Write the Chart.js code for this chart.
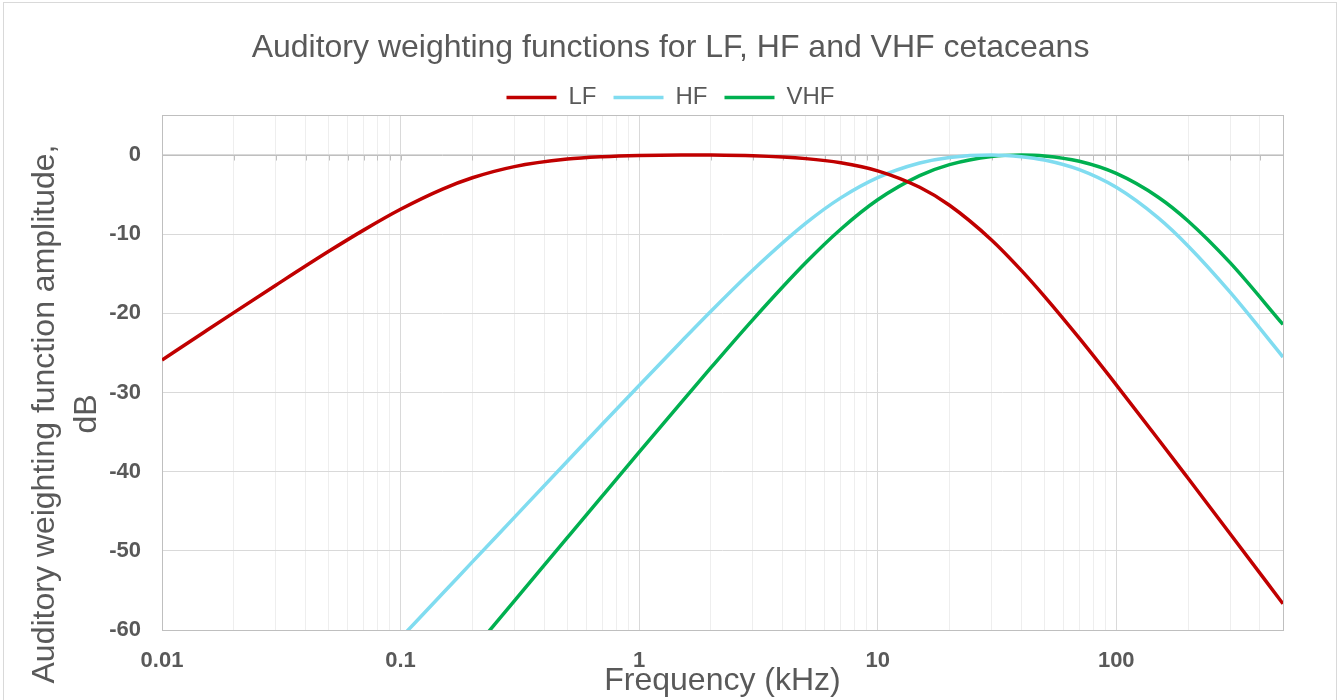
<!DOCTYPE html>
<html>
<head>
<meta charset="utf-8">
<title>Auditory weighting functions</title>
<script src="https://cdn.jsdelivr.net/npm/chart.js@4"></script>
<style>
  html, body { margin: 0; padding: 0; background: #fff; }
  #wrap { width: 1341px; height: 700px; overflow: hidden; }
</style>
</head>
<body>
<div id="wrap"><canvas id="chart" width="1341" height="700"></canvas></div>
<script>
const freqs = [0.01, 0.015, 0.02, 0.03, 0.05, 0.07, 0.1, 0.15, 0.2, 0.3, 0.5, 0.7,
  1, 1.5, 2, 3, 5, 7, 10, 15, 20, 30, 40, 50, 70, 100, 150, 200, 300, 500];

// amplitude in dB (null = far below the plot)
const lfValues = [-25.9, -22.39, -19.91, -16.45, -12.17, -9.49, -6.86, -4.31, -2.88, -1.47, -0.52, -0.22,
  -0.06, 0.0, -0.01, -0.10, -0.46, -0.98, -2.0, -4.08, -6.35, -10.73, -14.57, -17.85, -23.14, -29.03, -35.9, -40.84, -47.84, -56.69];
const hfValues = [null, null, null, null, null, null, -61.02, -55.39, -51.4, -45.77, -38.68, -34.02,
  -29.11, -23.59, -19.74, -14.53, -8.62, -5.42, -2.86, -1.02, -0.31, 0.0, -0.21, -0.64, -1.86, -4.09, -7.95, -11.49, -17.33, -25.52];
const vhfValues = [null, null, null, null, null, null, null, null, -62.65, -56.32, -48.34, -43.09,
  -37.54, -31.27, -26.87, -20.79, -13.59, -9.38, -5.66, -2.61, -1.22, -0.19, 0.0, -0.12, -0.8, -2.33, -5.33, -8.33, -13.6, -21.41];

const seriesNames = ["LF", "HF", "VHF"];
const seriesColors = ["#c00000", "#80dcf0", "#00b050"];

const xDecades = [0.01, 0.1, 1, 10, 100];
const xMin = 0.01, xMax = 500;
const yTickValues = [-60, -50, -40, -30, -20, -10, 0];
const yMin = -60, yMax = 5;

const textColor = "#595959";
const fontFamily = "'Liberation Sans', Arial, sans-serif";

// grid positions 1..9 per decade
const xGrid = [];
xDecades.forEach(d => {
  for (let m = 1; m <= 9; m++) {
    const v = +(m * d).toPrecision(6);
    if (v <= xMax) xGrid.push(v);
  }
});
const isMajor = v => xDecades.includes(v);

function toPoints(values) {
  return freqs.map((f, i) => ({ x: f, y: values[i] }));
}

const datasets = [lfValues, hfValues, vhfValues].map((vals, i) => ({
  label: seriesNames[i],
  data: toPoints(vals),
  borderColor: seriesColors[i],
  backgroundColor: seriesColors[i],
  borderWidth: 3.5,
  pointRadius: 0,
  pointHoverRadius: 0,
  cubicInterpolationMode: "monotone",
  spanGaps: false,
  clip: 0
}));

// plot frame, zero axis line with its small ticks, y title, outer frame
const decorations = {
  id: "decorations",
  beforeDatasetsDraw(chart) {
    const { ctx, chartArea: a, scales } = chart;
    const y0 = Math.round(scales.y.getPixelForValue(0)) + 0.5;
    ctx.save();
    ctx.strokeStyle = "#bfbfbf";
    ctx.lineWidth = 1;
    ctx.beginPath();
    ctx.moveTo(a.left, y0);
    ctx.lineTo(a.right, y0);
    xGrid.forEach(v => {
      const px = Math.round(scales.x.getPixelForValue(v)) + 0.5;
      ctx.moveTo(px, y0);
      ctx.lineTo(px, y0 + 5);
    });
    ctx.stroke();
    ctx.strokeRect(Math.round(a.left) + 0.5, Math.round(a.top) + 0.5,
      Math.round(a.right - a.left), Math.round(a.bottom - a.top));
    ctx.restore();
  },
  afterDraw(chart) {
    const { ctx } = chart;
    ctx.save();
    ctx.strokeStyle = "#d9d9d9";
    ctx.lineWidth = 1;
    ctx.strokeRect(3.5, 2.5, 1333, 760);
    ctx.fillStyle = textColor;
    ctx.font = "32px " + fontFamily;
    ctx.textAlign = "center";
    ctx.textBaseline = "middle";
    ctx.translate(45, 414);
    ctx.rotate(-Math.PI / 2);
    ctx.fillText("Auditory weighting function amplitude,", 0, 0);
    ctx.fillText("dB", 0, 42);
    ctx.restore();
  }
};

new Chart(document.getElementById("chart"), {
  type: "line",
  data: { datasets },
  plugins: [decorations],
  options: {
    responsive: false,
    animation: false,
    devicePixelRatio: 1,
    layout: { padding: 0 },
    plugins: {
      title: {
        display: true,
        text: "Auditory weighting functions for LF, HF and VHF cetaceans",
        color: textColor,
        font: { family: fontFamily, size: 32, weight: "normal" },
        padding: { top: 29, bottom: 1 }
      },
      legend: {
        display: true,
        position: "top",
        maxHeight: 47,
        labels: {
          color: textColor,
          font: { family: fontFamily, size: 24 },
          usePointStyle: true,
          pointStyle: "line",
          pointStyleWidth: 50,
          padding: 17
        }
      },
      tooltip: { enabled: false }
    },
    scales: {
      x: {
        type: "logarithmic",
        min: xMin,
        max: xMax,
        afterBuildTicks: s => { s.ticks = xGrid.map(v => ({ value: v, major: isMajor(v) })); },
        afterFit: s => { s.height = 70; },
        grid: {
          drawTicks: false,
          color: c => (c.tick && isMajor(c.tick.value)) ? "#d9d9d9" : "#eeeeee",
          lineWidth: 1
        },
        border: { display: false },
        ticks: {
          autoSkip: false,
          maxRotation: 0,
          minRotation: 0,
          padding: 18,
          color: textColor,
          font: { family: fontFamily, size: 22, weight: "bold" },
          callback: v => isMajor(v) ? String(v) : ""
        },
        title: {
          display: true,
          text: "Frequency (kHz)",
          color: textColor,
          font: { family: fontFamily, size: 32, weight: "normal" },
          padding: { top: 0, bottom: 0 }
        }
      },
      y: {
        type: "linear",
        min: yMin,
        max: yMax,
        afterBuildTicks: s => { s.ticks = yTickValues.map(v => ({ value: v })); },
        afterFit: s => { s.width = 162; },
        grid: { drawTicks: false, color: "#d9d9d9", lineWidth: 1 },
        border: { display: false },
        ticks: {
          padding: 21,
          color: textColor,
          font: { family: fontFamily, size: 22, weight: "bold" }
        }
      },
      yRight: {
        type: "linear",
        position: "right",
        display: true,
        grid: { display: false },
        border: { display: false },
        ticks: { display: false },
        afterFit: s => { s.width = 58; }
      }
    }
  }
});
</script>
</body>
</html>
